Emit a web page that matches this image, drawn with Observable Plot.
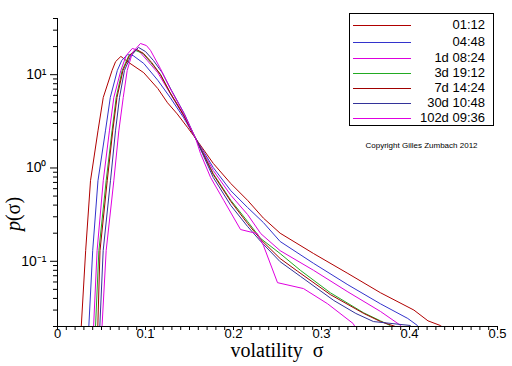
<!DOCTYPE html>
<html>
<head>
<meta charset="utf-8">
<script src="https://cdn.jsdelivr.net/npm/d3@7"></script>
<script src="https://cdn.jsdelivr.net/npm/@observablehq/plot@0.6"></script>
<style>
  body { margin: 0; background: #fff; }
  #wrap { position: relative; width: 512px; height: 366px; overflow: hidden; background: #fff; }
  .lbl { position: absolute; font-family: "Liberation Serif", "Times New Roman", serif; color: #000; white-space: nowrap; }
  #legend { position: absolute; left: 349px; top: 13px; width: 145px; height: 113px; border: 1px solid #000; background: #fff; box-sizing: border-box; }
  .row { position: absolute; left: 0; width: 100%; height: 16px; }
  .row svg { position: absolute; left: 3px; top: 0; }
  .row .tx { position: absolute; right: 8px; top: 0; font: 13px "Liberation Sans", Arial, sans-serif; line-height: 16px; }
  #copy { position: absolute; left: 349px; width: 145px; top: 141px; text-align: center; font: 8px "Liberation Sans", Arial, sans-serif; }
</style>
</head>
<body>
<div id="wrap"></div>
<script>
// Series labels and colours
const labels = ["01:12", "04:48", "1d 08:24", "3d 19:12", "7d 14:24", "30d 10:48", "102d 09:36"];
const colors = ["#b00000", "#3333cc", "#dd00dd", "#22aa22", "#a00000", "#333399", "#e000e0"];

// 01:12
const sig_0112 = [0.025,0.027,0.032,0.0375,0.046,0.052,0.062,0.066,0.072,0.081,0.098,0.114,0.125,0.136,0.148,0.157,0.177,0.197,0.216,0.234,0.253,0.291,0.330,0.367,0.405,0.421,0.435,0.447];
const p_0112   = [0.014,0.02,0.13,0.73,2.5,5.7,11.1,13.8,15.7,13.5,10.5,7.1,5.0,3.8,2.7,2.07,1.12,0.68,0.45,0.29,0.20,0.121,0.074,0.046,0.030,0.023,0.0205,0.017];
// 04:48
const sig_0448 = [0.0347,0.0356,0.040,0.046,0.0545,0.060,0.068,0.073,0.0795,0.086,0.098,0.114,0.128,0.143,0.157,0.177,0.197,0.216,0.234,0.253,0.291,0.330,0.367,0.398,0.409,0.415];
const p_0448   = [0.014,0.02,0.13,0.73,2.5,5.7,11.1,14.2,16.4,16.0,13.2,8.7,5.7,3.5,2.07,1.01,0.57,0.377,0.26,0.163,0.095,0.056,0.035,0.0244,0.0205,0.017];
// 1d 08:24
const sig_1d = [0.040,0.041,0.045,0.052,0.059,0.064,0.072,0.078,0.085,0.092,0.102,0.114,0.128,0.143,0.157,0.177,0.197,0.216,0.231,0.253,0.291,0.330,0.367,0.390,0.393];
const p_1d   = [0.014,0.02,0.13,0.73,2.5,5.7,11.1,16.0,19.1,18.2,14.2,10.5,6.3,3.65,2.07,0.94,0.51,0.317,0.198,0.130,0.080,0.047,0.029,0.0205,0.017];
// 3d 19:12
const sig_3d = [0.0426,0.0432,0.047,0.0553,0.062,0.0667,0.0735,0.081,0.0886,0.097,0.106,0.117,0.128,0.143,0.157,0.177,0.197,0.216,0.231,0.253,0.276,0.310,0.348,0.367,0.378,0.382];
const p_3d   = [0.014,0.02,0.13,0.73,2.5,5.7,11.1,16.0,18.2,16.9,13.5,10.1,6.4,3.74,2.07,0.87,0.45,0.267,0.175,0.121,0.080,0.046,0.028,0.023,0.0205,0.017];
// 7d 14:24
const sig_7d = [0.0449,0.0458,0.0483,0.0565,0.0628,0.0676,0.0744,0.0818,0.0898,0.0977,0.107,0.117,0.128,0.143,0.157,0.177,0.197,0.216,0.231,0.253,0.273,0.310,0.348,0.367,0.384,0.3875];
const p_7d   = [0.014,0.02,0.13,0.73,2.5,5.7,11.1,16.0,18.6,16.9,13.5,10.0,6.4,3.74,2.07,0.85,0.437,0.254,0.171,0.107,0.078,0.044,0.0276,0.0226,0.020,0.017];
// 30d 10:48
const sig_30d = [0.0472,0.0481,0.0519,0.0602,0.0659,0.0705,0.0761,0.083,0.092,0.100,0.109,0.119,0.1295,0.144,0.157,0.177,0.197,0.216,0.231,0.253,0.276,0.314,0.339,0.359,0.401,0.407];
const p_30d   = [0.014,0.02,0.13,0.73,2.5,5.7,11.1,15.7,19.6,17.7,14.2,10.5,6.8,3.84,2.07,0.79,0.396,0.236,0.163,0.099,0.069,0.038,0.0276,0.0226,0.0205,0.017];
// 102d 09:36
const sig_102d = [0.050,0.0506,0.0553,0.064,0.0697,0.0747,0.0792,0.0852,0.0943,0.1011,0.1057,0.117,0.128,0.143,0.157,0.1625,0.174,0.189,0.208,0.222,0.227,0.234,0.250,0.2795,0.307,0.336,0.342];
const p_102d   = [0.014,0.02,0.13,0.73,2.5,5.7,11.1,17.3,21.6,20.5,18.2,11.6,7.1,3.93,2.07,1.43,0.79,0.448,0.219,0.203,0.198,0.148,0.059,0.051,0.035,0.0215,0.017];

// Axis ticks
const xMajor = [0, 0.1, 0.2, 0.3, 0.4, 0.5];
const xMajorLabels = ["0", "0.1", "0.2", "0.3", "0.4", "0.5"];
const xMinor = d3.range(0, 51).map(i => i / 100);
const yMajor = [0.1, 1, 10];
const yMajorLabels = ["10\u207B\u00B9", "10\u2070", "10\u00B9"];
const yMinor = [0.02,0.03,0.04,0.05,0.06,0.07,0.08,0.09,0.2,0.3,0.4,0.5,0.6,0.7,0.8,0.9,2,3,4,5,6,7,8,9,20,30,40];

const seriesData = [
  [sig_0112, p_0112], [sig_0448, p_0448], [sig_1d, p_1d], [sig_3d, p_3d],
  [sig_7d, p_7d], [sig_30d, p_30d], [sig_102d, p_102d]
];
const rows = [];
seriesData.forEach(([s, p], k) => s.forEach((v, i) => rows.push({series: labels[k], sigma: v, p: p[i]})));

const chart = Plot.plot({
  width: 512, height: 366,
  marginLeft: 57, marginRight: 15, marginTop: 18, marginBottom: 40,
  style: {fontFamily: "'Liberation Sans', Arial, sans-serif", fontSize: "14px", color: "#000", background: "transparent"},
  x: {domain: [0, 0.5]},
  y: {type: "log", domain: [0.02, 40]},
  color: {domain: labels, range: colors},
  marks: [
    Plot.axisX({ticks: xMinor, tickSize: 4, tickFormat: () => "", label: null}),
    Plot.axisX({ticks: xMajor, tickSize: 4, tickPadding: -2, tickFormat: d => xMajorLabels[xMajor.indexOf(d)], label: null, fontSize: 13}),
    Plot.axisY({ticks: yMinor, tickSize: 4, tickFormat: () => "", label: null}),
    Plot.axisY({ticks: yMajor, tickSize: 7, tickPadding: 4, tickFormat: d => yMajorLabels[yMajor.indexOf(d)], label: null, fontSize: 14}),
    Plot.line(rows, {x: "sigma", y: "p", z: "series", stroke: "series", strokeWidth: 1, clip: true}),
    Plot.ruleX([0]),
    Plot.ruleY([0.02])
  ]
});

const wrap = document.getElementById("wrap");
wrap.appendChild(chart);

// axis titles
const xl = document.createElement("div");
xl.className = "lbl";
xl.style.cssText = "left:0;width:554px;top:341px;text-align:center;font-size:20px;line-height:18px;";
xl.innerHTML = "volatility&nbsp;&nbsp;σ";
wrap.appendChild(xl);

const yl = document.createElement("div");
yl.className = "lbl";
yl.style.cssText = "left:13px;top:214px;font-size:20px;line-height:22px;transform:translate(-50%,-50%) rotate(-90deg);";
yl.innerHTML = "<i>p</i>(σ)";
wrap.appendChild(yl);

// legend
const lg = document.createElement("div");
lg.id = "legend";
const rowTops = [3, 20, 36, 51, 66, 81, 96];
labels.forEach((lab, i) => {
  const r = document.createElement("div");
  r.className = "row";
  r.style.top = rowTops[i] + "px";
  r.innerHTML = `<svg width="58" height="16"><line x1="0" x2="58" y1="8.5" y2="8.5" stroke="${colors[i]}" stroke-width="1"/></svg><div class="tx">${lab}</div>`;
  lg.appendChild(r);
});
wrap.appendChild(lg);

const cp = document.createElement("div");
cp.id = "copy";
cp.textContent = "Copyright Gilles Zumbach 2012";
wrap.appendChild(cp);
</script>
</body>
</html>
